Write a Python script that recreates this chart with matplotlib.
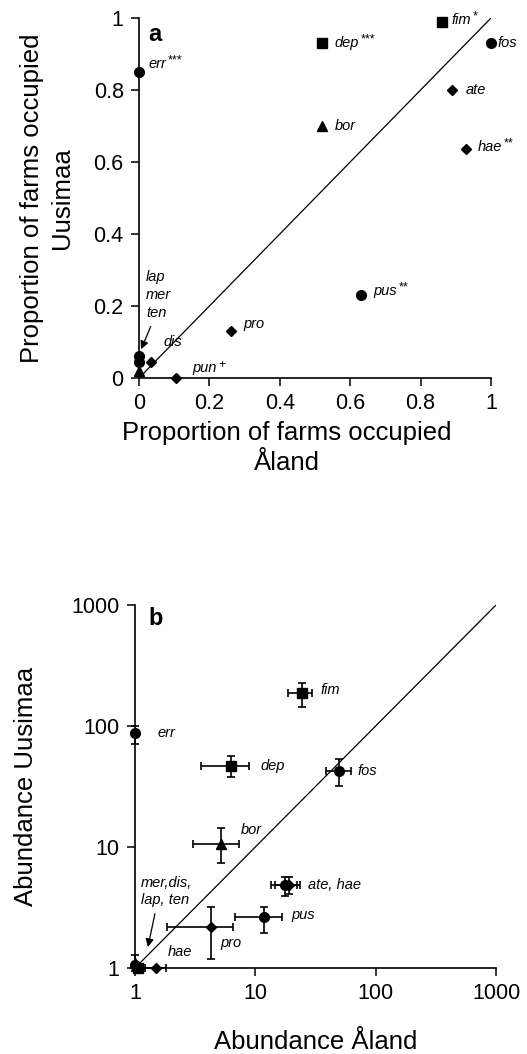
import numpy as np
import matplotlib.pyplot as plt
from matplotlib.ticker import NullLocator

plt.rcParams['font.family'] = ['Liberation Sans', 'DejaVu Sans']

# Panel a: proportion of farms occupied
names_a = ['err', 'dep', 'fim', 'fos', 'ate', 'bor', 'hae', 'pus', 'pro', 'pun', 'dis']
sig_a = ['***', '***', '*', '', '', '', '**', '**', '', '+', '']
x_aland = [0.0, 0.52, 0.86, 1.0, 0.89, 0.52, 0.93, 0.63, 0.26, 0.105, 0.035]
y_uusimaa = [0.85, 0.93, 0.99, 0.93, 0.80, 0.70, 0.635, 0.23, 0.13, 0.0, 0.045]
marker_a = ['o', 's', 's', 'o', 'D', '^', 'D', 'o', 'D', 'D', 'D']
# lap, mer, ten all at x = 0
cluster_x_a = [0.0, 0.0, 0.0]
cluster_y_a = [0.06, 0.045, 0.02]
cluster_m_a = ['o', 'o', '^']

# Panel b: abundance (mean with error range)
x_ab = [1.0, 24.2, 6.3, 50.0, 5.2, 17.5, 19.0, 11.7, 4.3, 1.5]
x_ab_lo = [1.0, 18.8, 3.55, 39.0, 3.05, 13.6, 14.5, 6.8, 1.85, 1.2]
x_ab_hi = [1.0, 29.3, 8.9, 62.0, 7.35, 22.0, 23.5, 16.8, 6.55, 1.8]
y_ab = [87.0, 187.0, 47.0, 42.5, 10.6, 4.85, 4.85, 2.64, 2.18, 1.0]
y_ab_lo = [71.0, 143.0, 38.0, 32.0, 7.4, 3.95, 4.1, 1.95, 1.19, 1.0]
y_ab_hi = [100.0, 226.0, 56.5, 53.0, 14.4, 5.65, 5.6, 3.19, 3.19, 1.0]
marker_b = ['o', 's', 's', 'o', '^', 'o', 'D', 'o', 'D', 'D']
# mer, dis, lap, ten near (1, 1)
cluster_x_b = [1.0, 1.08, 1.0, 1.05]
cluster_y_b = [1.05, 1.0, 1.1, 1.0]
cluster_m_b = ['o', 'D', '^', 's']

msize = {'o': 7, 's': 6.5, '^': 7, 'D': 5.5}

fig = plt.figure(figsize=(5.27, 10.54), dpi=100)
ax_a = fig.add_axes([139 / 527, 1 - 378 / 1054, 352 / 527, 360 / 1054])
ax_b = fig.add_axes([135 / 527, 1 - 968 / 1054, 361 / 527, 363 / 1054])

for ax in (ax_a, ax_b):
    ax.spines['top'].set_visible(False)
    ax.spines['right'].set_visible(False)
    ax.spines['left'].set_linewidth(1.2)
    ax.spines['bottom'].set_linewidth(1.2)
    ax.tick_params(direction='out', length=6, width=1.1, labelsize=15.5, pad=5)


def lab(ax, x, y, text, dx, dy, sig=''):
    t = ax.annotate(text, (x, y), xytext=(dx, dy), textcoords='offset points',
                    fontsize=10.5, style='italic', ha='left', va='center',
                    annotation_clip=False)
    if sig:
        # significance marks as a small raised suffix right after the name
        ax.annotate(sig, xy=(1.0, 0.75), xycoords=t, xytext=(1.5, 0),
                    textcoords='offset points', fontsize=9, ha='left',
                    va='center', annotation_clip=False)
    return t


# ---- panel a ----
ax_a.plot([0, 1], [0, 1], color='black', lw=0.9)
for x, y, m in zip(x_aland, y_uusimaa, marker_a):
    ax_a.plot(x, y, m, color='black', ms=msize[m], clip_on=False, zorder=3)
for x, y, m in zip(cluster_x_a, cluster_y_a, cluster_m_a):
    ax_a.plot(x, y, m, color='black', ms=msize[m], clip_on=False, zorder=3)

offs_a = {'err': (6.5, 6), 'dep': (9, 0), 'fim': (7, 1), 'fos': (4.5, 0),
          'ate': (10, 0), 'bor': (9, 0), 'hae': (8, 2), 'pus': (9, 3),
          'pro': (9, 5), 'pun': (11.5, 7), 'dis': (8.5, 14)}
for n, s, x, y in zip(names_a, sig_a, x_aland, y_uusimaa):
    lab(ax_a, x, y, n, offs_a[n][0], offs_a[n][1], s)

ax_a.annotate('lap\nmer\nten', (0.006, 0.08), xytext=(3.5, 39), textcoords='offset points',
              fontsize=10.5, style='italic', ha='left', va='center', linespacing=1.35,
              arrowprops=dict(arrowstyle='-|>', color='black', lw=0.9,
                              mutation_scale=12, relpos=(0.3, 0.0), shrinkA=3, shrinkB=0))

ax_a.set_xlim(0, 1)
ax_a.set_ylim(0, 1)
ticks = [0, 0.2, 0.4, 0.6, 0.8, 1]
tlabels = ['0', '0.2', '0.4', '0.6', '0.8', '1']
ax_a.set_xticks(ticks)
ax_a.set_xticklabels(tlabels)
ax_a.set_yticks(ticks)
ax_a.set_yticklabels(tlabels)
ax_a.set_xlabel('Proportion of farms occupied\nÅland', fontsize=18.5, linespacing=1.3)
ax_a.set_ylabel('Proportion of farms occupied\nUusimaa', fontsize=18.5, linespacing=1.3)
ax_a.xaxis.set_label_coords(0.42, -0.12)
ax_a.yaxis.set_label_coords(-0.185, 0.5)
ax_a.text(0.027, 0.955, 'a', transform=ax_a.transAxes, fontsize=17,
          fontweight='bold', ha='left', va='center')

# ---- panel b ----
ax_b.set_xscale('log')
ax_b.set_yscale('log')
ax_b.plot([1, 1000], [1, 1000], color='black', lw=0.9)
for i, m in enumerate(marker_b):
    xe = [[x_ab[i] - x_ab_lo[i]], [x_ab_hi[i] - x_ab[i]]]
    ye = [[y_ab[i] - y_ab_lo[i]], [y_ab_hi[i] - y_ab[i]]]
    ax_b.errorbar(x_ab[i], y_ab[i], xerr=xe, yerr=ye, fmt=m, color='black',
                  ms=msize[m], elinewidth=1.2, capsize=3, capthick=1.2,
                  clip_on=False, zorder=3)
for x, y, m in zip(cluster_x_b, cluster_y_b, cluster_m_b):
    ax_b.plot(x, y, m, color='black', ms=msize[m], clip_on=False, zorder=3)
ax_b.errorbar(1.0, 1.0, yerr=[[0.05], [0.27]], fmt='none', color='black',
              elinewidth=1.2, capsize=3, capthick=1.2, clip_on=False)

labels_b = [('err', 0, 16, 0), ('fim', 1, 14, 2), ('dep', 2, 21, 0), ('fos', 3, 13, 0),
            ('bor', 4, 14, 10), ('ate, hae', 5, 17, 0), ('pus', 7, 20, 1.5),
            ('pro', 8, 6.5, -11.5), ('hae', 9, 8, 11.5)]
for text, i, dx, dy in labels_b:
    lab(ax_b, x_ab[i], y_ab[i], text, dx, dy)

ax_b.annotate('mer,dis,\nlap, ten', (1.28, 1.49), xytext=(-5, 40), textcoords='offset points',
              fontsize=10.5, style='italic', ha='left', va='center', linespacing=1.25,
              arrowprops=dict(arrowstyle='-|>', color='black', lw=0.9,
                              mutation_scale=12, relpos=(0.3, 0.0), shrinkA=3, shrinkB=0))

ax_b.set_xlim(1, 1000)
ax_b.set_ylim(1, 1000)
lt = [1, 10, 100, 1000]
ax_b.set_xticks(lt)
ax_b.set_xticklabels([str(v) for v in lt])
ax_b.set_yticks(lt)
ax_b.set_yticklabels([str(v) for v in lt])
ax_b.xaxis.set_minor_locator(NullLocator())
ax_b.yaxis.set_minor_locator(NullLocator())
ax_b.set_xlabel('Abundance Åland', fontsize=18.5)
ax_b.set_ylabel('Abundance Uusimaa', fontsize=18.5)
ax_b.xaxis.set_label_coords(0.5, -0.17)
ax_b.yaxis.set_label_coords(-0.268, 0.5)
ax_b.text(0.036, 0.962, 'b', transform=ax_b.transAxes, fontsize=17,
          fontweight='bold', ha='left', va='center')

fig.savefig('out.png', dpi=100)
